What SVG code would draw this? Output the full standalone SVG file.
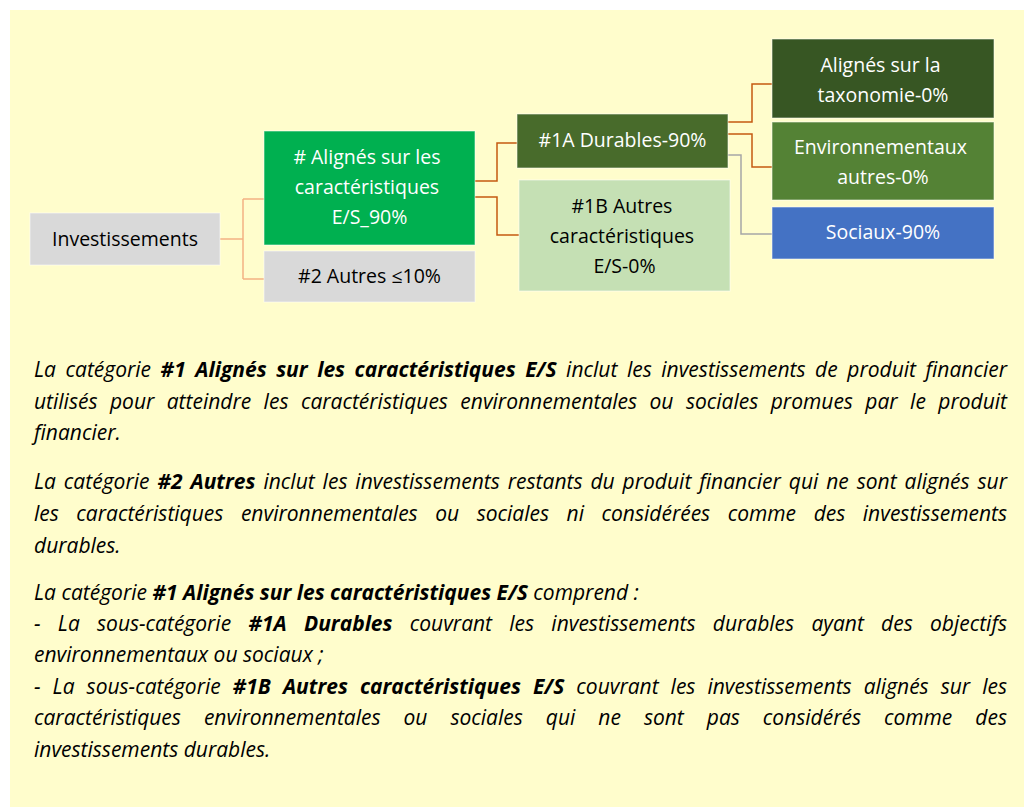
<svg xmlns="http://www.w3.org/2000/svg" width="1024" height="807" viewBox="0 0 1024 807">
<style>
.bx{stroke:#ffffff;stroke-opacity:0.55;stroke-width:1}
.nt{font-family:"Open Sans","Noto Sans","Liberation Sans",sans-serif;font-size:19.5px;text-anchor:middle}
.w{fill:#ffffff}
.k{fill:#000000}
.c1{fill:none;stroke:#F4B183;stroke-width:1.5}
.c2{fill:none;stroke:#C55A11;stroke-width:1.5}
.c3{fill:none;stroke:#A6A6A6;stroke-width:1.5}
.p{font-family:"Open Sans","Noto Sans","Liberation Sans",sans-serif;font-size:21px;font-style:italic;fill:#000000}
.b{font-weight:bold}
</style>
<rect x="10" y="10" width="1014" height="797" fill="#FFFDCC"/>
<g id="connectors">
<path class="c1" d="M220,239 H243 M243,199 V279 M243,199 H264 M243,279 H264"/>
<path class="c2" d="M475,181 H497 V143 H517"/>
<path class="c2" d="M475,197 H497 V235 H519"/>
<path class="c2" d="M728,122 H752 V84 H772"/>
<path class="c2" d="M728,134 H752 V167 H772"/>
<path class="c3" d="M728,155 H741 V234 H772"/>
</g>
<g id="investissements">
<rect class="bx" x="30" y="213" width="190" height="52" fill="#D9D9D9"/>
<text class="nt k" x="125" y="246">Investissements</text>
</g>
<g id="alignes-es">
<rect class="bx" x="264" y="131" width="211" height="114" fill="#00B050"/>
<text class="nt w" x="369.5" y="164">
<tspan x="369.5" y="164"># Alignés sur les</tspan>
<tspan x="369.5" y="194">caractéristiques</tspan>
<tspan x="369.5" y="224">E/S_90%</tspan>
</text>
</g>
<g id="autres">
<rect class="bx" x="264" y="251" width="211" height="51" fill="#D9D9D9"/>
<text class="nt k" x="369.5" y="283">#2 Autres ≤10%</text>
</g>
<g id="durables">
<rect class="bx" x="517" y="114" width="211" height="54" fill="#486B2B"/>
<text class="nt w" x="622.5" y="147">#1A Durables-90%</text>
</g>
<g id="autres-caracteristiques">
<rect class="bx" x="519" y="180" width="211" height="111" fill="#C5E0B4"/>
<text class="nt k" x="624.5" y="213">
<tspan x="624.5" y="213">#1B Autres</tspan>
<tspan x="624.5" y="243">caractéristiques</tspan>
<tspan x="624.5" y="273">E/S-0%</tspan>
</text>
</g>
<g id="taxonomie">
<rect class="bx" x="772" y="39" width="222" height="79" fill="#375623"/>
<text class="nt w" x="883" y="72">
<tspan x="883" y="72">Alignés sur la</tspan>
<tspan x="883" y="102">taxonomie-0%</tspan>
</text>
</g>
<g id="environnementaux">
<rect class="bx" x="772" y="122" width="222" height="78" fill="#548235"/>
<text class="nt w" x="883" y="154">
<tspan x="883" y="154">Environnementaux</tspan>
<tspan x="883" y="184">autres-0%</tspan>
</text>
</g>
<g id="sociaux">
<rect class="bx" x="772" y="207" width="222" height="52" fill="#4472C4"/>
<text class="nt w" x="883" y="239">Sociaux-90%</text>
</g>
<g id="texte">
<text class="p" x="34" y="377" word-spacing="4.1" textLength="973" lengthAdjust="spacing">La catégorie <tspan class="b">#1 Alignés sur les caractéristiques E/S</tspan> inclut les investissements de produit financier</text>
<text class="p" x="34" y="409" word-spacing="7" textLength="973" lengthAdjust="spacing">utilisés pour atteindre les caractéristiques environnementales ou sociales promues par le produit</text>
<text class="p" x="34" y="440">financier.</text>
<text class="p" x="34" y="489" word-spacing="2.4" textLength="973" lengthAdjust="spacing">La catégorie <tspan class="b">#2 Autres</tspan> inclut les investissements restants du produit financier qui ne sont alignés sur</text>
<text class="p" x="34" y="521" word-spacing="12.1" textLength="973" lengthAdjust="spacing">les caractéristiques environnementales ou sociales ni considérées comme des investissements</text>
<text class="p" x="34" y="553">durables.</text>
<text class="p" x="34" y="600">La catégorie <tspan class="b">#1 Alignés sur les caractéristiques E/S</tspan> comprend :</text>
<text class="p" x="34" y="631" word-spacing="11.8" textLength="973" lengthAdjust="spacing">- La sous-catégorie <tspan class="b">#1A Durables</tspan> couvrant les investissements durables ayant des objectifs</text>
<text class="p" x="34" y="662">environnementaux ou sociaux ;</text>
<text class="p" x="34" y="694" word-spacing="6.6" textLength="973" lengthAdjust="spacing">- La sous-catégorie <tspan class="b">#1B Autres caractéristiques E/S</tspan> couvrant les investissements alignés sur les</text>
<text class="p" x="34" y="725" word-spacing="17.6" textLength="973" lengthAdjust="spacing">caractéristiques environnementales ou sociales qui ne sont pas considérés comme des</text>
<text class="p" x="34" y="757">investissements durables.</text>
</g>
</svg>
